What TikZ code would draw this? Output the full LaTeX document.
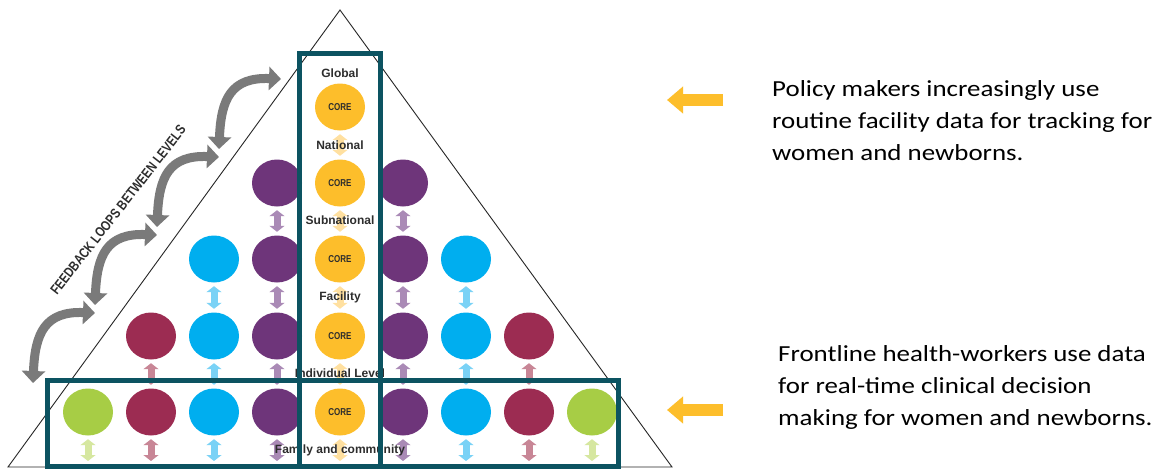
\documentclass[tikz,border=0pt]{standalone}
\usepackage{fontspec}
\setmainfont{Carlito}[FakeStretch=1.17]
\newfontfamily\lvlfont{Liberation Sans}
\newfontfamily\condfont{Liberation Sans}[FakeStretch=0.8]
\usepackage{tikz}
\usetikzlibrary{positioning,arrows.meta,shapes.geometric}

\definecolor{coreY}{RGB}{253,190,43}
\definecolor{paleY}{RGB}{255,224,160}
\definecolor{dot1}{RGB}{110,53,122}
\definecolor{dot2}{RGB}{0,174,239}
\definecolor{dot3}{RGB}{156,44,82}
\definecolor{dot4}{RGB}{167,205,69}
\definecolor{pale1}{RGB}{170,138,182}
\definecolor{pale2}{RGB}{122,210,246}
\definecolor{pale3}{RGB}{200,134,150}
\definecolor{pale4}{RGB}{214,231,160}
\definecolor{framecol}{RGB}{12,83,97}
\definecolor{loopgray}{RGB}{122,122,122}
\definecolor{lvltext}{RGB}{45,45,45}

\begin{document}
\begin{tikzpicture}[
  x=1pt, y=-1pt,
  dot/.style    = {ellipse, minimum width=50pt, minimum height=47pt, inner sep=0pt},
  core/.style   = {dot, fill=coreY, text=lvltext,
                   font=\condfont\bfseries\fontsize{10}{10}\selectfont},
  lvl/.style    = {text=lvltext, inner sep=1pt,
                   font=\lvlfont\bfseries\fontsize{12}{12}\selectfont},
  updown/.style = {line width=7pt, shorten <=3.5pt, shorten >=3.5pt,
                   {Triangle[length=6pt,width=15pt]}-{Triangle[length=6pt,width=15pt]}},
  fbloop/.style = {line width=9pt, draw=loopgray,
                   {Triangle[length=12pt,width=23pt]}-{Triangle[length=12pt,width=23pt]}},
  frame/.style  = {draw=framecol, line width=5pt},
  callout/.style= {line width=12pt, draw=coreY, -{Triangle[length=16pt,width=26pt]}},
  note/.style   = {anchor=north west, align=left, inner sep=0pt,
                   font=\fontsize{23}{32}\selectfont},
]
\useasboundingbox[fill=white] (0,0) rectangle (1157,469);

% ================= pyramid =============================================
\draw[black!85, line width=0.9pt] (8,467) -- (340,10) -- (672,467) -- cycle;

% feedback loops along the left edge
\foreach \k in {0,...,3} {
  \coordinate (fb-lo-\k) at (219-62*\k,149+78*\k);
  \coordinate (fb-hi-\k) at (281-62*\k,79+78*\k);
  \draw[fbloop] (fb-lo-\k) .. controls ++(2,-50) and ++(-50,-2) .. (fb-hi-\k);
}
\node[rotate=52, text=lvltext, inner sep=0pt,
      font=\condfont\bfseries\fontsize{14}{14}\selectfont] (fbtext) at (118,210)
  {FEEDBACK LOOPS BETWEEN LEVELS};

% ================= circles =============================================
\foreach \r/\y in {1/107,2/183,3/259,4/336,5/412}
  \node[core] (core\r) at (340,\y) {CORE};
\foreach \r/\y/\m in {2/183/1,3/259/2,4/336/3,5/412/4}
  \foreach \i in {1,...,\m} {
    \node[dot, fill=dot\i] (l-\r-\i) at (340-63*\i,\y) {};
    \node[dot, fill=dot\i] (r-\r-\i) at (340+63*\i,\y) {};
  }

% ================= links between rows ==================================
\foreach \r/\rn in {1/2,2/3,3/4,4/5}
  \draw[updown, draw=paleY] (core\r) -- (core\rn);
\foreach \r/\rn/\m in {2/3/1,3/4/2,4/5/3}
  \foreach \i in {1,...,\m} {
    \draw[updown, draw=pale\i] (l-\r-\i) -- (l-\rn-\i);
    \draw[updown, draw=pale\i] (r-\r-\i) -- (r-\rn-\i);
  }
\coordinate (bot-0) at (340,467);
\draw[updown, draw=paleY, shorten >=6pt] (core5) -- (bot-0);
\foreach \i in {1,...,4} {
  \coordinate (bot-l-\i) at (340-63*\i,467);
  \coordinate (bot-r-\i) at (340+63*\i,467);
  \draw[updown, draw=pale\i, shorten >=6pt] (l-5-\i) -- (bot-l-\i);
  \draw[updown, draw=pale\i, shorten >=6pt] (r-5-\i) -- (bot-r-\i);
}

% ================= level names =========================================
\node[lvl] (global)   at (340,73)  {Global};
\node[lvl] (national) at (340,145) {National};
\node[lvl] (subnat)   at (340,220) {Subnational};
\node[lvl] (facility) at (340,297) {Facility};
\node[lvl] (indiv)    at (340,373) {Individual Level};
\node[lvl] (family)   at (340,450) {Family and community};

% ================= frames ==============================================
\draw[frame] (299,53) rectangle (380,466);
\draw[frame] (47,380) rectangle (618,466);

% ================= notes on the right ==================================
\coordinate (pol-s) at (723,100);
\coordinate (pol-e) at (667,100);
\draw[callout] (pol-s) -- (pol-e);
\node[note] (policy) at (772,80)
  {Policy makers increasingly use\\
   routine facility data for tracking for\\
   women and newborns.};

\coordinate (fl-s) at (723,410);
\coordinate (fl-e) at (667,410);
\draw[callout] (fl-s) -- (fl-e);
\node[note] (front) at (778,345)
  {Frontline health-workers use data\\
   for real-time clinical decision\\
   making for women and newborns.};

\end{tikzpicture}
\end{document}
